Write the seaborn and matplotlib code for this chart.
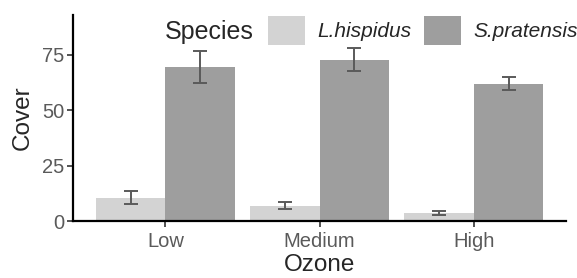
import pandas as pd
import numpy as np
import matplotlib
matplotlib.use('Agg')
import matplotlib.pyplot as plt
import seaborn as sns
from matplotlib.patches import Patch

# data
ozone = ['Low', 'Medium', 'High']
species = ['L.hispidus', 'S.pratensis']
cover_lh = [10.5, 7.0, 3.5]
cover_sp = [69.5, 72.7, 62.0]
err_lh = [3.0, 1.8, 0.9]
err_sp = [7.2, 5.2, 2.9]

light = '#d3d3d3'
dark = '#9e9e9e'

df = pd.DataFrame({
    'Ozone': ozone * 2,
    'Species': [species[0]] * 3 + [species[1]] * 3,
    'Cover': cover_lh + cover_sp,
    'err': err_lh + err_sp,
})

sns.set_style('white')
plt.rcParams['font.family'] = ['Liberation Sans', 'DejaVu Sans']

fig = plt.figure(figsize=(5.77, 2.78), dpi=100)
ax = fig.add_axes([0.1265, 0.205, 0.855, 0.741])

sns.barplot(data=df, x='Ozone', y='Cover', hue='Species', order=ozone,
            hue_order=species, palette=[light, dark], width=0.9,
            errorbar=None, saturation=1, ax=ax, linewidth=0)

# error bars on top of each bar
for cont, sp in zip(ax.containers, species):
    sub = df[df['Species'] == sp].set_index('Ozone').loc[ozone]
    xs = [p.get_x() + p.get_width() / 2 for p in cont.patches]
    ax.errorbar(xs, sub['Cover'], yerr=sub['err'], fmt='none',
                ecolor='#5a5a5a', elinewidth=1.4, capsize=4.7, capthick=1.4)

ax.set_xlim(-0.6, 2.6)
ax.set_ylim(0, 93)
ax.set_yticks([0, 25, 50, 75])
ax.tick_params(axis='both', labelsize=14.5, labelcolor='#5a5a5a', length=4,
               width=1.2, color='#333333', bottom=True, left=True, pad=2)
ax.tick_params(axis='x', pad=4)
ax.set_xlabel('Ozone', fontsize=17.5, labelpad=2)
ax.set_ylabel('Cover', fontsize=17.5, labelpad=6)
sns.despine(ax=ax)
for s in ['left', 'bottom']:
    ax.spines[s].set_color('black')
    ax.spines[s].set_linewidth(1.6)

ax.get_legend().remove()
handles = [Patch(facecolor=light, edgecolor='none'),
           Patch(facecolor=dark, edgecolor='none')]
leg = fig.legend(handles, species, loc='center left', bbox_to_anchor=(0.4645, 0.89),
                 ncol=2, frameon=False, fontsize=15, handlelength=1.78,
                 handleheight=1.78, handletextpad=0.58, columnspacing=0.62,
                 borderpad=0, borderaxespad=0)
for t in leg.get_texts():
    t.set_fontstyle('italic')
fig.text(0.286, 0.885, 'Species', fontsize=18, va='center', ha='left')

fig.savefig('out.png', dpi=100)
